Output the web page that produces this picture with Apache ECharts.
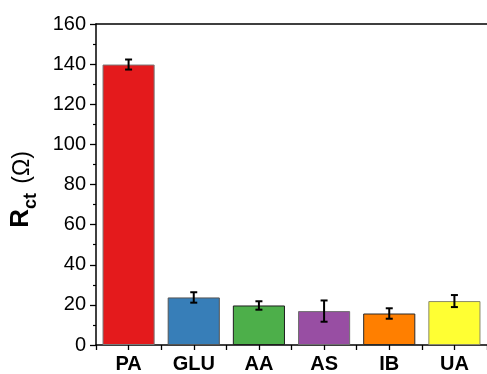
<!DOCTYPE html>
<html>
<head>
<meta charset="utf-8">
<script src="https://cdn.jsdelivr.net/npm/echarts@6/dist/echarts.min.js"></script>
<style>
  html, body { margin: 0; padding: 0; background: #fff; }
  #chart { width: 487px; height: 374px; }
</style>
</head>
<body>
<div id="chart"></div>
<script>
// Charge-transfer resistance for each analyte
const categories = ['PA', 'GLU', 'AA', 'AS', 'IB', 'UA'];
const rctMean = [139.8, 23.7, 19.7, 16.9, 15.7, 21.9];
const rctError = [2.5, 2.6, 2.1, 5.3, 2.6, 3.0];
const yTicks = [0, 20, 40, 60, 80, 100, 120, 140, 160];

const fillColors = ['#E41A1C', '#377EB8', '#4DAF4A', '#984EA3', '#FF7F00', '#FFFF33'];
const edgeColors = ['#7a7a7a', '#555555', '#1e1e1e', '#707070', '#2a2a2a', '#8a8a6a'];

const chart = echarts.init(document.getElementById('chart'), null, { renderer: 'canvas' });
const font = 'Arial, "Liberation Sans", Helvetica, sans-serif';

const barData = rctMean.map((v, i) => ({
  value: v,
  itemStyle: { color: fillColors[i], borderColor: edgeColors[i], borderWidth: 1 }
}));
const errData = rctMean.map((v, i) => [i, v, rctError[i]]);

chart.setOption({
  animation: false,
  grid: { left: 92, top: 24, width: 400, bottom: 28.3 },
  xAxis: [
    {
      type: 'category',
      data: categories,
      position: 'bottom',
      axisLine: { show: true, lineStyle: { color: '#000', width: 1.5 } },
      axisTick: { show: true, alignWithLabel: true, length: 5, lineStyle: { color: '#000', width: 1.3 } },
      axisLabel: { color: '#000', fontFamily: font, fontSize: 20, fontWeight: 'bold', margin: 9 },
      splitLine: { show: false }
    },
    {
      type: 'category',
      data: categories,
      position: 'bottom',
      axisLine: { show: false },
      axisTick: { show: true, alignWithLabel: false, length: 5, lineStyle: { color: '#000', width: 1.3 } },
      axisLabel: { show: false },
      splitLine: { show: false }
    },
    {
      type: 'category',
      data: categories,
      position: 'top',
      axisLine: { show: true, lineStyle: { color: '#000', width: 1.5 } },
      axisTick: { show: false },
      axisLabel: { show: false },
      splitLine: { show: false }
    }
  ],
  yAxis: {
    type: 'value',
    min: yTicks[0],
    max: yTicks[yTicks.length - 1],
    interval: 20,
    axisLine: { show: true, lineStyle: { color: '#000', width: 1.5 } },
    axisTick: { show: true, length: 6, lineStyle: { color: '#000', width: 1.3 } },
    minorTick: { show: true, splitNumber: 2, length: 3, lineStyle: { color: '#000', width: 1.2 } },
    splitLine: { show: false },
    axisLabel: { color: '#000', fontFamily: font, fontSize: 20, margin: 10 },
    name: '{r|R}{s|ct}{p| (Ω)}',
    nameLocation: 'middle',
    nameRotate: 90,
    nameGap: 62,
    nameTextStyle: {
      rich: {
        r: { fontFamily: font, fontSize: 26, fontWeight: 'bold', color: '#000', verticalAlign: 'bottom', lineHeight: 30 },
        s: { fontFamily: font, fontSize: 18, fontWeight: 'bold', color: '#000', verticalAlign: 'bottom', lineHeight: 22, padding: [0, 3, -6, 0] },
        p: { fontFamily: font, fontSize: 23, color: '#000', verticalAlign: 'bottom', lineHeight: 30, padding: [0, 10, 0, 0] }
      }
    }
  },
  series: [
    {
      type: 'bar',
      data: barData,
      barWidth: '80%',
      xAxisIndex: 0
    },
    {
      type: 'custom',
      xAxisIndex: 0,
      data: errData,
      encode: { x: 0, y: 1 },
      z: 5,
      renderItem: function (params, api) {
        const idx = api.value(0);
        const mean = api.value(1);
        const err = api.value(2);
        const hi = api.coord([idx, mean + err]);
        const lo = api.coord([idx, mean - err]);
        const cap = 3.5;
        const style = { stroke: '#000', lineWidth: 2 };
        return {
          type: 'group',
          children: [
            { type: 'line', shape: { x1: hi[0], y1: hi[1], x2: lo[0], y2: lo[1] }, style },
            { type: 'line', shape: { x1: hi[0] - cap, y1: hi[1], x2: hi[0] + cap, y2: hi[1] }, style },
            { type: 'line', shape: { x1: lo[0] - cap, y1: lo[1], x2: lo[0] + cap, y2: lo[1] }, style }
          ]
        };
      }
    }
  ]
});
</script>
</body>
</html>
